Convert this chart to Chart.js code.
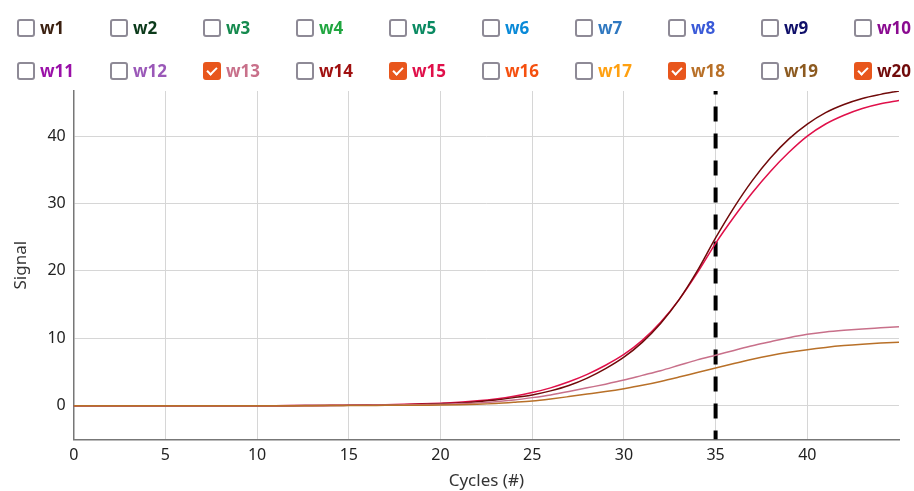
<!DOCTYPE html>
<html>
<head>
<meta charset="utf-8">
<script src="https://cdn.jsdelivr.net/npm/chart.js@4.4.1/dist/chart.umd.min.js"></script>
<style>
  html, body { margin: 0; padding: 0; background: #fff; }
  #wrap { position: relative; width: 914px; height: 491px; }
  #myChart { position: absolute; left: 0; top: 0; }
  #legend { position: absolute; left: 17px; top: 0; width: 900px; font-family: "Noto Sans", sans-serif; }
  .item { position: absolute; display: flex; align-items: center; font-weight: bold; font-size: 17px; }
  .box { width: 14px; height: 14px; border: 2px solid #8e8a96; border-radius: 3px; margin-right: 5px; box-sizing: content-box; }
  .box.on { background: #e8561c; border-color: #e8561c; position: relative; }
  .box.on::after { content: ""; position: absolute; left: 4px; top: 1px; width: 4px; height: 8px;
    border: solid #fff; border-width: 0 2px 2px 0; transform: rotate(45deg); }
</style>
</head>
<body>
<div id="wrap">
  <canvas id="myChart" width="914" height="491"></canvas>
  <div id="legend"></div>
</div>
<script>
 // wells shown in the legend
 const wellNames = ['w1','w2','w3','w4','w5','w6','w7','w8','w9','w10',
                    'w11','w12','w13','w14','w15','w16','w17','w18','w19','w20'];
 const wellColors = ['#3b2010','#0b3a1a','#158a4e','#20a640','#0a8a62','#0a8ad8','#2f78c0','#3a5ad8','#10106a','#8a0a90',
                     '#9a10a8','#9a58b8','#c8708a','#a01010','#e0104a','#f5500f','#ffa010','#b87028','#8c5a20','#700a0a'];
 const checkedWells = ['w13','w15','w18','w20'];

 // cycles 0..45
 const cycles = [0,1,2,3,4,5,6,7,8,9,10,11,12,13,14,15,16,17,18,19,20,21,22,
                 23,24,25,26,27,28,29,30,31,32,33,34,35,36,37,38,39,40,41,42,43,44,45];

 const w13 = [0,0,0,0,0,0,0,0,0,0,0,0.01,0.02,0.03,0.04,0.06,0.08,0.1,0.13,0.16,0.2,0.3,0.42,
              0.6,0.85,1.2,1.6,2.1,2.65,3.2,3.8,4.5,5.2,6.0,6.8,7.5,8.2,8.9,9.5,10.1,10.6,10.95,11.2,11.4,11.55,11.7];
 const w15 = [0,0,0,0,0,0,0,0,0,0,0,0.01,0.02,0.03,0.05,0.07,0.1,0.14,0.2,0.28,0.38,0.52,0.72,
              1.0,1.4,1.95,2.65,3.55,4.65,6.0,7.6,9.7,12.4,15.7,19.7,24.1,28.0,31.6,34.8,37.6,40.0,41.8,43.1,44.1,44.8,45.3];
 const w18 = [0,0,0,0,0,0,0,0,0,0,0,0,0.01,0.01,0.02,0.03,0.04,0.05,0.06,0.08,0.1,0.15,0.22,
              0.33,0.5,0.7,1.0,1.35,1.72,2.1,2.53,3.02,3.6,4.25,4.93,5.6,6.27,6.9,7.45,7.92,8.32,8.65,8.92,9.13,9.3,9.43];
 const w20 = [0,0,0,0,0,0,0,0,0,0,0,0.01,0.01,0.02,0.03,0.05,0.07,0.1,0.14,0.2,0.3,0.42,0.6,
              0.85,1.2,1.6,2.2,3.0,4.1,5.5,7.2,9.4,12.2,15.7,20.0,24.9,29.4,33.4,36.8,39.6,41.8,43.5,44.7,45.6,46.2,46.7];

 // threshold cycle marker
 const markerX = [35, 35];
 const markerY = [-5, 46.7];

 const xTicks = [0,5,10,15,20,25,30,35,40];
 const yTicks = [0,10,20,30,40];

 // legend with checkboxes
 const legend = document.getElementById('legend');
 wellNames.forEach(function(name, i) {
   const item = document.createElement('div');
   item.className = 'item';
   item.style.left = ((i % 10) * 93) + 'px';
   item.style.top = (i < 10 ? 16 : 59) + 'px';
   const box = document.createElement('span');
   box.className = 'box' + (checkedWells.includes(name) ? ' on' : '');
   const txt = document.createElement('span');
   txt.textContent = name;
   txt.style.color = wellColors[i];
   item.appendChild(box);
   item.appendChild(txt);
   legend.appendChild(item);
 });

 function points(values) {
   return cycles.map(function(c, i) { return { x: c, y: values[i] }; });
 }

 function lineSet(name, values) {
   return {
     label: name,
     data: points(values),
     borderColor: wellColors[wellNames.indexOf(name)],
     borderWidth: 1.5,
     pointRadius: 0,
     cubicInterpolationMode: 'monotone',
     fill: false
   };
 }

 const font = { family: '"Noto Sans", sans-serif', size: 16 };

 const ctx = document.getElementById('myChart').getContext('2d');
 const myChart = new Chart(ctx, {
   type: 'line',
   data: {
     datasets: [
       lineSet('w18', w18),
       lineSet('w13', w13),
       lineSet('w20', w20),
       lineSet('w15', w15),
       {
         label: 'Ct',
         data: markerX.map(function(x, i) { return { x: x, y: markerY[i] }; }),
         borderColor: '#000',
         borderWidth: 4,
         borderDash: [15, 12],
         borderDashOffset: 6,
         pointRadius: 0
       }
     ]
   },
   options: {
     responsive: false,
     animation: false,
     layout: { padding: { top: 91, right: 15, left: 7, bottom: 0 } },
     plugins: { legend: { display: false }, tooltip: { enabled: false } },
     scales: {
       x: {
         type: 'linear',
         min: 0,
         max: 45,
         afterBuildTicks: function(axis) { axis.ticks = xTicks.map(function(v) { return { value: v }; }); },
         grid: { color: '#d6d6d6', drawTicks: false },
         border: { color: '#777', width: 1.5 },
         ticks: { color: '#222', font: font, padding: 6, maxRotation: 0 },
         title: { display: true, text: 'Cycles (#)', color: '#333', font: { family: font.family, size: 17 }, padding: { top: 0, bottom: 0 } }
       },
       y: {
         min: -5,
         max: 46.7,
         afterBuildTicks: function(axis) { axis.ticks = yTicks.map(function(v) { return { value: v }; }); },
         grid: { color: '#d6d6d6', drawTicks: false },
         border: { color: '#777', width: 1.5 },
         ticks: { color: '#222', font: font, padding: 8 },
         title: { display: true, text: 'Signal', color: '#333', font: { family: font.family, size: 17 }, padding: { bottom: 8 } }
       }
     }
   }
 });
</script>
</body>
</html>
